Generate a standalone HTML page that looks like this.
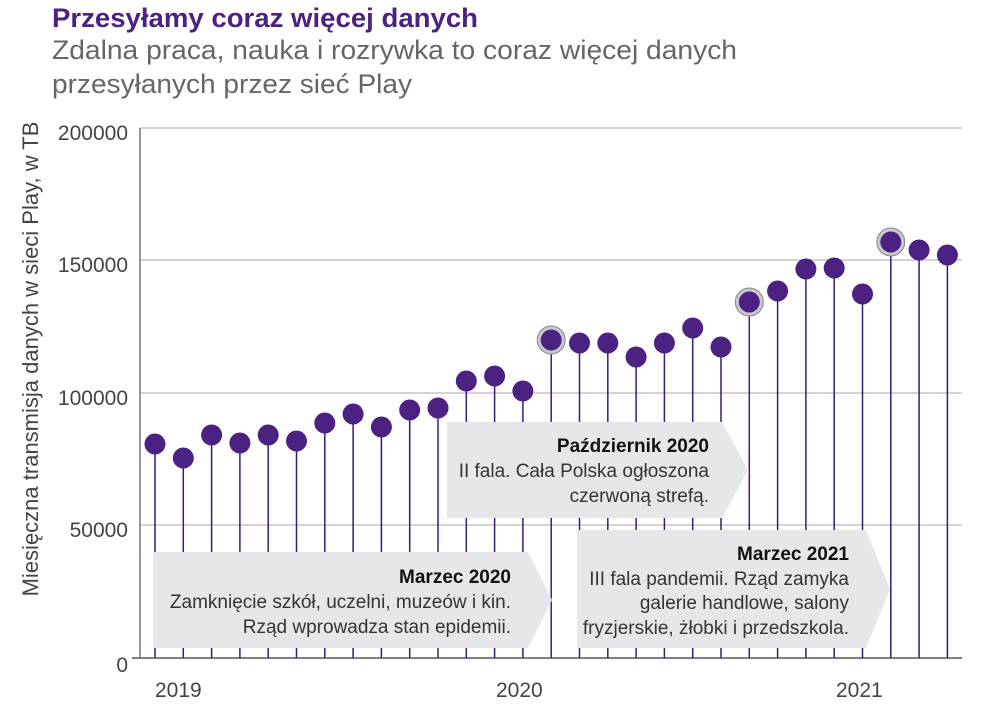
<!DOCTYPE html><html><head><meta charset="utf-8"><style>
body{margin:0;background:#fff;width:991px;height:707px;overflow:hidden;font-family:"Liberation Sans",sans-serif}
</style></head><body>
<svg width="991" height="707" xmlns="http://www.w3.org/2000/svg" font-family="Liberation Sans, sans-serif">
<text x="52" y="27" font-size="27" font-weight="bold" fill="#4b2182" textLength="426" lengthAdjust="spacingAndGlyphs">Przesyłamy coraz więcej danych</text>
<text x="52" y="59" font-size="27" fill="#666" textLength="685" lengthAdjust="spacingAndGlyphs">Zdalna praca, nauka i rozrywka to coraz więcej danych</text>
<text x="52" y="93" font-size="27" fill="#666" textLength="360" lengthAdjust="spacingAndGlyphs">przesyłanych przez sieć Play</text>
<g stroke="#bbb" stroke-width="1.3">
<line x1="140" y1="128" x2="962" y2="128"/><line x1="140" y1="260" x2="962" y2="260"/>
<line x1="140" y1="393" x2="962" y2="393"/><line x1="140" y1="525" x2="962" y2="525"/>
</g>
<line x1="140" y1="128" x2="140" y2="658" stroke="#777" stroke-width="1.5"/>
<line x1="132" y1="658" x2="962" y2="658" stroke="#555" stroke-width="1.5"/>
<g font-size="21" fill="#444" text-anchor="end">
<text x="128" y="140">200000</text><text x="128" y="272">150000</text><text x="128" y="405">100000</text><text x="128" y="537">50000</text><text x="128" y="672">0</text>
</g>
<g font-size="21" fill="#444"><text x="155" y="697">2019</text><text x="496" y="697">2020</text><text x="836" y="697">2021</text></g>
<text transform="translate(38,359) rotate(-90)" font-size="22" fill="#444" text-anchor="middle">Miesięczna transmisja danych w sieci Play, w TB</text>
<g stroke="#3d1a78" stroke-width="1.5">
<line x1="155" y1="444" x2="155" y2="658"/><line x1="183.3" y1="458" x2="183.3" y2="658"/><line x1="211.6" y1="435" x2="211.6" y2="658"/><line x1="239.9" y1="443" x2="239.9" y2="658"/><line x1="268.2" y1="435" x2="268.2" y2="658"/><line x1="296.5" y1="441" x2="296.5" y2="658"/><line x1="324.8" y1="423" x2="324.8" y2="658"/><line x1="353.1" y1="414" x2="353.1" y2="658"/><line x1="381.4" y1="427" x2="381.4" y2="658"/><line x1="409.7" y1="410" x2="409.7" y2="658"/><line x1="438" y1="408" x2="438" y2="658"/><line x1="466.3" y1="381" x2="466.3" y2="658"/><line x1="494.6" y1="376" x2="494.6" y2="658"/><line x1="522.9" y1="391" x2="522.9" y2="658"/><line x1="551.2" y1="340" x2="551.2" y2="658"/><line x1="579.5" y1="343" x2="579.5" y2="658"/><line x1="607.8" y1="343" x2="607.8" y2="658"/><line x1="636.1" y1="357" x2="636.1" y2="658"/><line x1="664.4" y1="343" x2="664.4" y2="658"/><line x1="692.7" y1="328" x2="692.7" y2="658"/><line x1="721" y1="347" x2="721" y2="658"/><line x1="749.3" y1="302" x2="749.3" y2="658"/><line x1="777.6" y1="291" x2="777.6" y2="658"/><line x1="805.9" y1="269" x2="805.9" y2="658"/><line x1="834.2" y1="268" x2="834.2" y2="658"/><line x1="862.5" y1="294" x2="862.5" y2="658"/><line x1="890.8" y1="242" x2="890.8" y2="658"/><line x1="919.1" y1="250" x2="919.1" y2="658"/><line x1="947.4" y1="255" x2="947.4" y2="658"/>
</g>
<g fill="#c9c9cc" stroke="#888" stroke-width="1">
<circle cx="551.2" cy="340" r="14"/><circle cx="749.3" cy="302" r="14"/><circle cx="890.8" cy="242" r="14"/>
</g>
<g fill="#4b2182">
<circle cx="155" cy="444" r="10.5"/><circle cx="183.3" cy="458" r="10.5"/><circle cx="211.6" cy="435" r="10.5"/><circle cx="239.9" cy="443" r="10.5"/><circle cx="268.2" cy="435" r="10.5"/><circle cx="296.5" cy="441" r="10.5"/><circle cx="324.8" cy="423" r="10.5"/><circle cx="353.1" cy="414" r="10.5"/><circle cx="381.4" cy="427" r="10.5"/><circle cx="409.7" cy="410" r="10.5"/><circle cx="438" cy="408" r="10.5"/><circle cx="466.3" cy="381" r="10.5"/><circle cx="494.6" cy="376" r="10.5"/><circle cx="522.9" cy="391" r="10.5"/><circle cx="551.2" cy="340" r="10.5"/><circle cx="579.5" cy="343" r="10.5"/><circle cx="607.8" cy="343" r="10.5"/><circle cx="636.1" cy="357" r="10.5"/><circle cx="664.4" cy="343" r="10.5"/><circle cx="692.7" cy="328" r="10.5"/><circle cx="721" cy="347" r="10.5"/><circle cx="749.3" cy="302" r="10.5"/><circle cx="777.6" cy="291" r="10.5"/><circle cx="805.9" cy="269" r="10.5"/><circle cx="834.2" cy="268" r="10.5"/><circle cx="862.5" cy="294" r="10.5"/><circle cx="890.8" cy="242" r="10.5"/><circle cx="919.1" cy="250" r="10.5"/><circle cx="947.4" cy="255" r="10.5"/>
</g>
<polygon points="153,552 528,552 552,600 528,648 153,648" fill="#e6e7e8"/>
<polygon points="447,422 722,422 748,470 722,518 447,518" fill="#e6e7e8"/>
<polygon points="577,530 866,530 890,589 866,648 577,648" fill="#e6e7e8"/>
<g font-size="19" fill="#333" text-anchor="end">
<text x="511" y="583" font-weight="bold" fill="#111">Marzec 2020</text>
<text x="511" y="608">Zamknięcie szkół, uczelni, muzeów i kin.</text>
<text x="511" y="633">Rząd wprowadza stan epidemii.</text>
<text x="709" y="452" font-weight="bold" fill="#111">Październik 2020</text>
<text x="709" y="477">II fala. Cała Polska ogłoszona</text>
<text x="709" y="502">czerwoną strefą.</text>
<text x="849" y="560" font-weight="bold" fill="#111">Marzec 2021</text>
<text x="849" y="585">III fala pandemii. Rząd zamyka</text>
<text x="849" y="609">galerie handlowe, salony</text>
<text x="849" y="634">fryzjerskie, żłobki i przedszkola.</text>
</g>
</svg></body></html>
